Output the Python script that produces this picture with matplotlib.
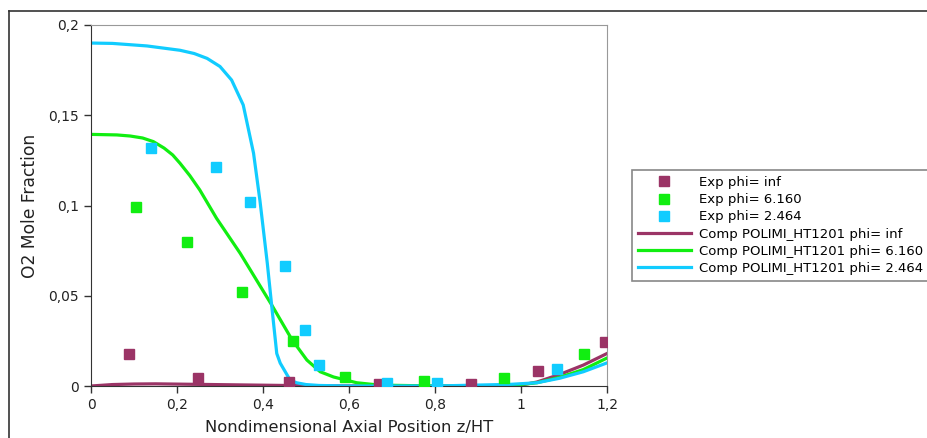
import matplotlib.pyplot as plt
from matplotlib.lines import Line2D

# experimental points
exp_inf_x = [0.088, 0.248, 0.46, 0.67, 0.884, 1.04, 1.196]
exp_inf_y = [0.0177, 0.0043, 0.0024, 0.001, 0.001, 0.0085, 0.0244]
exp_616_x = [0.104, 0.223, 0.351, 0.469, 0.59, 0.775, 0.96, 1.146]
exp_616_y = [0.099, 0.080, 0.052, 0.025, 0.0052, 0.0026, 0.0044, 0.0179]
exp_246_x = [0.139, 0.29, 0.37, 0.451, 0.498, 0.531, 0.689, 0.804, 1.084]
exp_246_y = [0.1317, 0.1213, 0.1018, 0.0665, 0.031, 0.0116, 0.0015, 0.0015, 0.0092]

# computed profiles (POLIMI_HT1201)
comp_inf_x = [0, 0.05, 0.1, 0.15, 0.25, 0.35, 0.45, 0.55, 0.7, 0.9, 1.0, 1.037, 1.09, 1.145, 1.2]
comp_inf_y = [0.0, 0.0008, 0.0011, 0.0012, 0.0009, 0.0006, 0.0003, 0.0001, 0.0, 0.0, 0.0005, 0.0022,
              0.0064, 0.0116, 0.018]
comp_616_x = [0, 0.06, 0.091, 0.12, 0.145, 0.17, 0.19, 0.207, 0.23, 0.253, 0.292, 0.347, 0.42, 0.467,
              0.502, 0.533, 0.564, 0.618, 0.67, 0.8, 0.974, 1.037, 1.09, 1.145, 1.2]
comp_616_y = [0.1394, 0.1391, 0.1385, 0.1374, 0.1354, 0.1318, 0.128, 0.1234, 0.1165, 0.1086, 0.0929,
              0.0735, 0.045, 0.0258, 0.0144, 0.0079, 0.005, 0.0018, 0.0005, 0.0, 0.0002, 0.0018, 0.0048,
              0.0091, 0.0155]
comp_246_x = [0, 0.05, 0.13, 0.207, 0.24, 0.27, 0.30, 0.327, 0.354, 0.378, 0.393, 0.41, 0.42, 0.432,
              0.44, 0.463, 0.478, 0.50, 0.53, 0.6, 0.8, 0.974, 1.037, 1.09, 1.145, 1.2]
comp_246_y = [0.190, 0.1898, 0.1884, 0.186, 0.1842, 0.1815, 0.177, 0.1695, 0.1557, 0.129, 0.1025, 0.068,
              0.045, 0.018, 0.0127, 0.0033, 0.0018, 0.0008, 0.0003, 0.0, 0.0, 0.0009, 0.0018, 0.0043,
              0.0079, 0.0128]

xticks = [0, 0.2, 0.4, 0.6, 0.8, 1.0, 1.2]
xtick_labels = ['0', '0,2', '0,4', '0,6', '0,8', '1', '1,2']
yticks = [0, 0.05, 0.1, 0.15, 0.2]
ytick_labels = ['0', '0,05', '0,1', '0,15', '0,2']

labels = ['Exp phi= inf', 'Exp phi= 6.160', 'Exp phi= 2.464',
          'Comp POLIMI_HT1201 phi= inf', 'Comp POLIMI_HT1201 phi= 6.160', 'Comp POLIMI_HT1201 phi= 2.464']

purple = '#9b3466'
green = '#11ee11'
cyan = '#11ccff'

fig = plt.figure(figsize=(9.27, 4.38), dpi=100)
ax = fig.add_axes([91 / 927, 52 / 438, 516 / 927, 361 / 438])

l1, = ax.plot(comp_inf_x, comp_inf_y, color=purple, lw=2.3, zorder=2)
l2, = ax.plot(comp_616_x, comp_616_y, color=green, lw=2.3, zorder=2)
l3, = ax.plot(comp_246_x, comp_246_y, color=cyan, lw=2.3, zorder=2)
m1, = ax.plot(exp_inf_x, exp_inf_y, 's', color=purple, ms=6.5, zorder=3)
m2, = ax.plot(exp_616_x, exp_616_y, 's', color=green, ms=6.5, zorder=3)
m3, = ax.plot(exp_246_x, exp_246_y, 's', color=cyan, ms=6.5, zorder=3)

ax.set_xlim(0, 1.2)
ax.set_ylim(0, 0.2)
ax.set_xticks(xticks)
ax.set_xticklabels(xtick_labels)
ax.set_yticks(yticks)
ax.set_yticklabels(ytick_labels)
ax.tick_params(direction='out', length=5, width=1, color='#333333', labelsize=10, labelcolor='#222222')

for s in ['top', 'right']:
    ax.spines[s].set_color('#999999')
for s in ['left', 'bottom']:
    ax.spines[s].set_color('#333333')

ax.set_xlabel('Nondimensional Axial Position z/HT', fontsize=11.8, color='#222222', labelpad=6)
ax.set_ylabel('O2 Mole Fraction', fontsize=12.3, color='#222222', labelpad=7)

leg = fig.legend([m1, m2, m3, l1, l2, l3], labels, loc='upper left',
                 bbox_to_anchor=(632 / 927, 1 - 170 / 438), borderaxespad=0, fontsize=9.5,
                 handlelength=4.0, handletextpad=0.6, labelspacing=0.32,
                 fancybox=False, edgecolor='#888888', framealpha=1, borderpad=0.45)
leg.get_frame().set_linewidth(1.2)

# outer frame (top and left)
y_top = 1 - 11 / 438
x_left = 9 / 927
fig.add_artist(Line2D([x_left, 1], [y_top, y_top], transform=fig.transFigure, color='#333333', lw=1.2))
fig.add_artist(Line2D([x_left, x_left], [0, y_top], transform=fig.transFigure, color='#333333', lw=1.2))

fig.savefig('out.png', dpi=100)
